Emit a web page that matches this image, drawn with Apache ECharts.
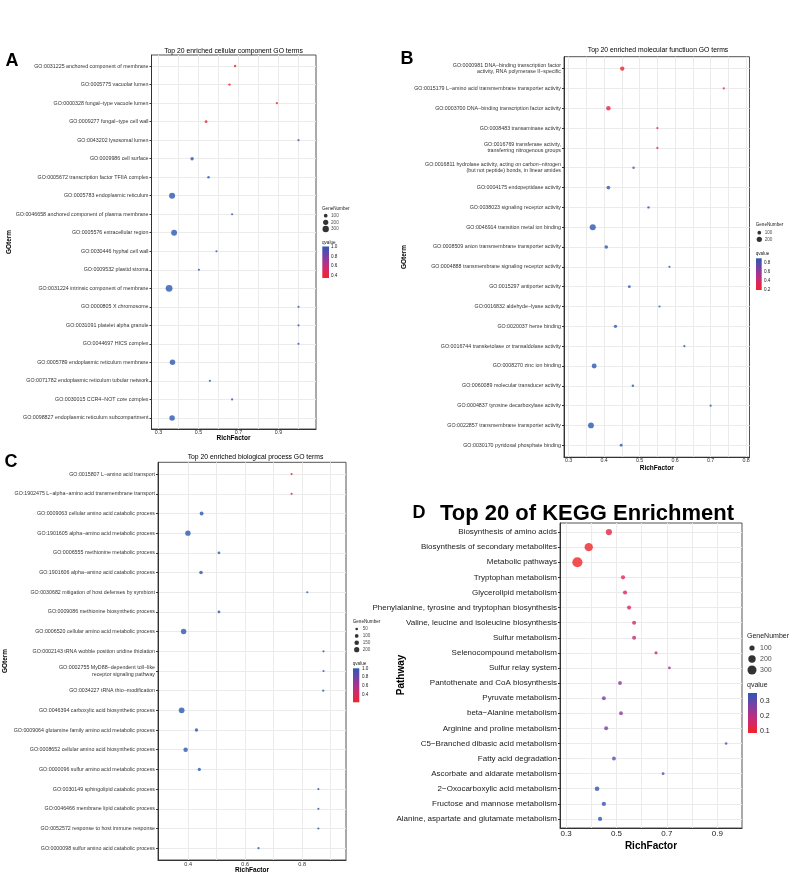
<!DOCTYPE html>
<html>
<head>
<meta charset="UTF-8">
<title>GO / KEGG enrichment bubble charts</title>
<script src="https://cdn.jsdelivr.net/npm/echarts@6/dist/echarts.min.js"></script>
<style>
  html, body { margin: 0; padding: 0; background: #fff; }
  #main { width: 790px; height: 874px; }
</style>
</head>
<body>
<div id="main"></div>
<script>
// ---- A: cellular component ----
var ccTerms = [
  'GO:0031225 anchored component of membrane', 'GO:0005775 vacuolar lumen',
  'GO:0000328 fungal\u2212type vacuole lumen', 'GO:0009277 fungal\u2212type cell wall',
  'GO:0043202 lysosomal lumen', 'GO:0009986 cell surface',
  'GO:0005672 transcription factor TFIIA complex', 'GO:0005783 endoplasmic reticulum',
  'GO:0046658 anchored component of plasma membrane', 'GO:0005576 extracellular region',
  'GO:0030446 hyphal cell wall', 'GO:0009532 plastid stroma',
  'GO:0031224 intrinsic component of membrane', 'GO:0000805 X chromosome',
  'GO:0031091 platelet alpha granule', 'GO:0044697 HICS complex',
  'GO:0005789 endoplasmic reticulum membrane', 'GO:0071782 endoplasmic reticulum tubular network',
  'GO:0030015 CCR4\u2212NOT core complex', 'GO:0098827 endoplasmic reticulum subcompartment'
];
var ccRich  = [0.683, 0.655, 0.892, 0.538, 1.0, 0.468, 0.55, 0.368, 0.668, 0.378,
               0.59, 0.502, 0.353, 1.0, 1.0, 1.0, 0.37, 0.557, 0.668, 0.368];
var ccGenes = [45, 45, 27, 60, 20, 87, 48, 265, 27, 250, 34, 34, 340, 10, 10, 10, 220, 27, 27, 220];
var ccQ     = [0.37, 0.36, 0.37, 0.38, 0.9, 1, 1, 1, 1, 1, 1, 1, 1, 1, 1, 1, 1, 1, 1, 1];
var ccTicks = [0.3, 0.5, 0.7, 0.9];
var ccGridX = [0.3, 0.4, 0.5, 0.6, 0.7, 0.8, 0.9, 1.0];
var ccSizeBreaks = [100, 200, 300];
var ccQTicks = [0.4, 0.6, 0.8, 1.0];

// ---- B: molecular function ----
var mfTerms = [
  'GO:0000981 DNA\u2212binding transcription factor\nactivity, RNA polymerase II\u2212specific',
  'GO:0015179 L\u2212amino acid transmembrane transporter activity',
  'GO:0003700 DNA\u2212binding transcription factor activity',
  'GO:0008483 transaminase activity',
  'GO:0016769 transferase activity,\ntransferring nitrogenous groups',
  'GO:0016811 hydrolase activity, acting on carbon\u2212nitrogen\n(but not peptide) bonds, in linear amides',
  'GO:0004175 endopeptidase activity', 'GO:0038023 signaling receptor activity',
  'GO:0046914 transition metal ion binding', 'GO:0008509 anion transmembrane transporter activity',
  'GO:0004888 transmembrane signaling receptor activity', 'GO:0015297 antiporter activity',
  'GO:0016832 aldehyde\u2212lyase activity', 'GO:0020037 heme binding',
  'GO:0016744 transketolase or transaldolase activity', 'GO:0008270 zinc ion binding',
  'GO:0060089 molecular transducer activity', 'GO:0004837 tyrosine decarboxylase activity',
  'GO:0022857 transmembrane transporter activity', 'GO:0030170 pyridoxal phosphate binding'
];
var mfRich  = [0.451, 0.737, 0.412, 0.55, 0.55, 0.483, 0.412, 0.525, 0.368, 0.406,
               0.584, 0.471, 0.556, 0.432, 0.626, 0.372, 0.481, 0.70, 0.363, 0.448];
var mfGenes = [140, 20, 150, 32, 32, 45, 100, 45, 270, 95, 32, 60, 25, 80, 20, 180, 45, 11, 245, 60];
var mfQ     = [0.2, 0.26, 0.28, 0.3, 0.3, 0.75, 0.887, 0.887, 0.887, 0.887,
               0.887, 0.887, 0.887, 0.887, 0.887, 0.887, 0.887, 0.887, 0.887, 0.887];
var mfTicks = [0.3, 0.4, 0.5, 0.6, 0.7, 0.8];
var mfGridX = [0.3, 0.35, 0.4, 0.45, 0.5, 0.55, 0.6, 0.65, 0.7, 0.75, 0.8];
var mfSizeBreaks = [100, 200];
var mfQTicks = [0.2, 0.4, 0.6, 0.8];

// ---- C: biological process ----
var bpTerms = [
  'GO:0015807 L\u2212amino acid transport', 'GO:1902475 L\u2212alpha\u2212amino acid transmembrane transport',
  'GO:0009063 cellular amino acid catabolic process', 'GO:1901605 alpha\u2212amino acid metabolic process',
  'GO:0006555 methionine metabolic process', 'GO:1901606 alpha\u2212amino acid catabolic process',
  'GO:0030682 mitigation of host defenses by symbiont', 'GO:0009086 methionine biosynthetic process',
  'GO:0006520 cellular amino acid metabolic process', 'GO:0002143 tRNA wobble position uridine thiolation',
  'GO:0002755 MyD88\u2212dependent toll\u2212like\nreceptor signaling pathway', 'GO:0034227 tRNA thio\u2212modification',
  'GO:0046394 carboxylic acid biosynthetic process', 'GO:0009064 glutamine family amino acid metabolic process',
  'GO:0008652 cellular amino acid biosynthetic process', 'GO:0000096 sulfur amino acid metabolic process',
  'GO:0030149 sphingolipid catabolic process', 'GO:0046466 membrane lipid catabolic process',
  'GO:0052572 response to host immune response', 'GO:0000098 sulfur amino acid catabolic process'
];
var bpRich  = [0.763, 0.763, 0.447, 0.399, 0.508, 0.445, 0.818, 0.508, 0.384, 0.875,
               0.875, 0.874, 0.377, 0.429, 0.391, 0.439, 0.857, 0.857, 0.857, 0.647];
var bpGenes = [12, 12, 110, 210, 55, 95, 8, 55, 220, 5, 5, 5, 240, 85, 150, 75, 5, 5, 5, 15];
var bpQ     = [0.214, 0.214, 1, 1, 1, 1, 1, 1, 1, 1, 1, 1, 1, 1, 1, 1, 1, 1, 1, 1];
var bpTicks = [0.4, 0.6, 0.8];
var bpGridX = [0.4, 0.5, 0.6, 0.7, 0.8, 0.9];
var bpSizeBreaks = [50, 100, 150, 200];
var bpQTicks = [0.4, 0.6, 0.8, 1.0];

// ---- D: KEGG ----
var kgTerms = [
  'Biosynthesis of amino acids', 'Biosynthesis of secondary metabolites', 'Metabolic pathways',
  'Tryptophan metabolism', 'Glycerolipid metabolism', 'Phenylalanine, tyrosine and tryptophan biosynthesis',
  'Valine, leucine and isoleucine biosynthesis', 'Sulfur metabolism', 'Selenocompound metabolism',
  'Sulfur relay system', 'Pantothenate and CoA biosynthesis', 'Pyruvate metabolism',
  'beta\u2212Alanine metabolism', 'Arginine and proline metabolism', 'C5\u2212Branched dibasic acid metabolism',
  'Fatty acid degradation', 'Ascorbate and aldarate metabolism', '2\u2212Oxocarboxylic acid metabolism',
  'Fructose and mannose metabolism', 'Alanine, aspartate and glutamate metabolism'
];
var kgRich  = [0.47, 0.39, 0.345, 0.526, 0.534, 0.55, 0.57, 0.57, 0.657, 0.71,
               0.514, 0.45, 0.518, 0.459, 0.935, 0.49, 0.685, 0.423, 0.45, 0.435];
var kgGenes = [144, 256, 380, 64, 64, 64, 60, 60, 36, 30, 55, 60, 55, 60, 25, 55, 30, 80, 70, 65];
var kgQ     = [0.12, 0.09, 0.087, 0.13, 0.14, 0.15, 0.17, 0.18, 0.19, 0.23,
               0.25, 0.27, 0.25, 0.27, 0.3, 0.3, 0.32, 0.34, 0.34, 0.353];
var kgTicks = [0.3, 0.5, 0.7, 0.9];
var kgGridX = [0.3, 0.4, 0.5, 0.6, 0.7, 0.8, 0.9];
var kgSizeBreaks = [100, 200, 300];
var kgQTicks = [0.1, 0.2, 0.3];

var FONT = '"Liberation Sans", Arial, sans-serif';
var qStops = ['#F02526', '#D72864', '#A8338F', '#6B45A8', '#2C58B2'];

var panels = [
  { terms: ccTerms, rich: ccRich, genes: ccGenes, q: ccQ, xTicks: ccTicks, xGrid: ccGridX,
    sizeBreaks: ccSizeBreaks, qTicks: ccQTicks,
    grid: { left: 151.5, top: 55, width: 164.5, height: 374 }, xMin: 0.265, xMax: 1.0875,
    qMin: 0.36, qMax: 1.0, k: 0.37, minSize: 2.2, font: 5.3, tickFont: 5.3, lab: '#333', xMargin: 1, yMargin: 3,
    sizeLeg: { x: 325.7, labelX: 331, y0: 215.7, dy: 6.67, font: 4.6 },
    bar: { x: 322.3, w: 6.7, top: 246.5, bottom: 278, labelX: 331, font: 4.6 } },
  { terms: mfTerms, rich: mfRich, genes: mfGenes, q: mfQ, xTicks: mfTicks, xGrid: mfGridX,
    sizeBreaks: mfSizeBreaks, qTicks: mfQTicks,
    grid: { left: 564, top: 56.7, width: 185.5, height: 400.5 }, xMin: 0.287, xMax: 0.8095,
    qMin: 0.195, qMax: 0.887, k: 0.37, minSize: 2.2, font: 5.3, tickFont: 5.3, lab: '#333', xMargin: 1, yMargin: 3,
    sizeLeg: { x: 759.3, labelX: 764.7, y0: 232.7, dy: 6.6, font: 4.6 },
    bar: { x: 756, w: 5.7, top: 258.3, bottom: 290, labelX: 764, font: 4.6 } },
  { terms: bpTerms, rich: bpRich, genes: bpGenes, q: bpQ, xTicks: bpTicks, xGrid: bpGridX,
    sizeBreaks: bpSizeBreaks, qTicks: bpQTicks,
    grid: { left: 158, top: 462.3, width: 188, height: 397.7 }, xMin: 0.294, xMax: 0.954,
    qMin: 0.214, qMax: 1.0, k: 0.37, minSize: 2.2, font: 5.3, tickFont: 5.5, lab: '#333', xMargin: 1.3, yMargin: 3,
    sizeLeg: { x: 356.7, labelX: 362.7, y0: 629, dy: 6.9, font: 4.6 },
    bar: { x: 353, w: 6.3, top: 668.3, bottom: 702.3, labelX: 362, font: 4.6 } },
  { terms: kgTerms, rich: kgRich, genes: kgGenes, q: kgQ, xTicks: kgTicks, xGrid: kgGridX,
    sizeBreaks: kgSizeBreaks, qTicks: kgQTicks,
    grid: { left: 560, top: 523, width: 182, height: 305 }, xMin: 0.276, xMax: 0.998,
    qMin: 0.087, qMax: 0.353, k: 0.52, minSize: 2.5, font: 8, tickFont: 8, lab: '#1a1a1a', xMargin: 2, yMargin: 3,
    sizeLeg: { x: 752, labelX: 760, y0: 648, dy: 11, font: 7 },
    bar: { x: 748, w: 9, top: 693, bottom: 733, labelX: 760, font: 7 } }
];

var grids = [], xAxes = [], yAxes = [], series = [], visualMaps = [];

function fmt1(v) { return (+v).toFixed(1); }

panels.forEach(function (p) {
  var gi = grids.length;
  var size = function (v) { return Math.max(p.minSize, p.k * Math.sqrt(v[2])); };
  var idx = p.terms.map(function (t, i) { return i; });

  // main plot panel
  grids.push({ left: p.grid.left, top: p.grid.top, width: p.grid.width, height: p.grid.height,
    show: true, borderColor: '#555', borderWidth: 1, backgroundColor: '#fff' });
  xAxes.push({ type: 'value', gridIndex: gi, min: p.xMin, max: p.xMax,
    axisLine: { show: true, onZero: false, lineStyle: { color: '#333', width: 1 } },
    axisTick: { show: false, customValues: p.xGrid },
    axisLabel: { customValues: p.xTicks, formatter: fmt1, fontSize: p.tickFont, color: p.lab,
      fontFamily: FONT, margin: p.xMargin },
    splitLine: { show: true, lineStyle: { color: '#ebebeb', width: 1 } } });
  yAxes.push({ type: 'value', gridIndex: gi, inverse: true, min: -0.6, max: p.terms.length - 0.4,
    axisLine: { show: true, onZero: false, lineStyle: { color: '#333', width: 1 } },
    axisTick: { show: true, length: 2, customValues: idx, lineStyle: { color: '#333' } },
    axisLabel: { customValues: idx, fontSize: p.font, color: p.lab, fontFamily: FONT,
      margin: p.yMargin, lineHeight: p.font * 1.15,
      formatter: function (v) { return p.terms[Math.round(v)]; } },
    splitLine: { show: true, lineStyle: { color: '#ebebeb', width: 1 } } });
  series.push({ type: 'scatter', xAxisIndex: gi, yAxisIndex: gi, symbolSize: size,
    data: p.rich.map(function (r, i) { return [r, i, p.genes[i], p.q[i]]; }) });
  visualMaps.push({ type: 'continuous', show: false, seriesIndex: series.length - 1, dimension: 3,
    min: p.qMin, max: p.qMax, inRange: { color: qStops } });

  // size legend (GeneNumber)
  var sl = p.sizeLeg, n = p.sizeBreaks.length, li = grids.length;
  grids.push({ left: sl.x, top: sl.y0 - sl.dy / 2, width: sl.labelX - sl.x, height: sl.dy * n });
  xAxes.push({ type: 'value', gridIndex: li, min: 0, max: 1, show: false });
  yAxes.push({ type: 'value', gridIndex: li, min: -0.5, max: n - 0.5, inverse: true, show: false });
  series.push({ type: 'scatter', xAxisIndex: li, yAxisIndex: li, symbolSize: size,
    itemStyle: { color: '#000' }, silent: true,
    data: p.sizeBreaks.map(function (b, i) { return [0, i, b]; }) });
  series.push({ type: 'scatter', xAxisIndex: li, yAxisIndex: li, symbolSize: 0.1,
    itemStyle: { color: 'rgba(0,0,0,0)' }, silent: true,
    label: { show: true, position: 'right', distance: 0, fontSize: sl.font, color: '#1a1a1a',
      fontFamily: FONT, formatter: function (d) { return String(d.value[2]); } },
    data: p.sizeBreaks.map(function (b, i) { return [1, i, b]; }) });

  // colour bar (qvalue)
  var cb = p.bar, ci = grids.length;
  grids.push({ left: cb.x, top: cb.top, width: cb.w, height: cb.bottom - cb.top });
  xAxes.push({ type: 'category', gridIndex: ci, data: ['q'], show: false });
  yAxes.push({ type: 'value', gridIndex: ci, position: 'right', min: p.qMin, max: p.qMax,
    axisLine: { show: false },
    axisTick: { show: true, inside: true, length: 1.5, customValues: p.qTicks, lineStyle: { color: '#fff' } },
    axisLabel: { customValues: p.qTicks, formatter: fmt1, fontSize: cb.font, color: '#1a1a1a',
      fontFamily: FONT, margin: cb.labelX - cb.x - cb.w },
    splitLine: { show: false } });
  series.push({ type: 'bar', xAxisIndex: ci, yAxisIndex: ci, stack: 'cb' + ci, barWidth: '100%',
    silent: true, itemStyle: { color: 'rgba(0,0,0,0)' }, data: [p.qMin] });
  series.push({ type: 'bar', xAxisIndex: ci, yAxisIndex: ci, stack: 'cb' + ci, barWidth: '100%',
    silent: true, data: [p.qMax - p.qMin],
    itemStyle: { color: new echarts.graphic.LinearGradient(0, 0, 0, 1,
      qStops.slice().reverse().map(function (c, i) { return { offset: i / (qStops.length - 1), color: c }; })) } });
});

function txt(s, x, y, size, o) {
  o = o || {};
  return { type: 'text', x: x, y: y, rotation: o.rot || 0, silent: true,
    style: { text: s, fontSize: size, fontWeight: o.bold ? 'bold' : 'normal', fontFamily: FONT,
      fill: o.fill || '#000', align: o.align || 'center', verticalAlign: 'middle' } };
}
var R = Math.PI / 2;
var texts = [
  txt('A', 12, 61.5, 18, { bold: true }),
  txt('Top 20 enriched cellular component GO terms', 233.5, 51, 6.8),
  txt('GOterm', 9, 242, 6.5, { bold: true, rot: R }),
  txt('RichFactor', 233.5, 438.5, 6.5, { bold: true }),
  txt('GeneNumber', 322, 209, 4.6, { align: 'left', fill: '#1a1a1a' }),
  txt('qvalue', 322, 242.7, 4.6, { align: 'left', fill: '#1a1a1a' }),

  txt('B', 407, 59.5, 18, { bold: true }),
  txt('Top 20 enriched molecular functiuon GO terms', 658, 50.3, 6.8),
  txt('GOterm', 404, 257, 6.5, { bold: true, rot: R }),
  txt('RichFactor', 656.7, 468, 6.5, { bold: true }),
  txt('GeneNumber', 755.7, 224.3, 4.6, { align: 'left', fill: '#1a1a1a' }),
  txt('qvalue', 755.7, 253.3, 4.6, { align: 'left', fill: '#1a1a1a' }),

  txt('C', 11, 462, 18, { bold: true }),
  txt('Top 20 enriched biological process GO terms', 255.5, 456.7, 6.8),
  txt('GOterm', 5, 661, 6.5, { bold: true, rot: R }),
  txt('RichFactor', 252, 870, 6.5, { bold: true }),
  txt('GeneNumber', 352.7, 621.7, 4.6, { align: 'left', fill: '#1a1a1a' }),
  txt('qvalue', 352.7, 664, 4.6, { align: 'left', fill: '#1a1a1a' }),

  txt('D', 419, 513, 18, { bold: true }),
  txt('Top 20 of KEGG Enrichment', 587, 514, 22, { bold: true }),
  txt('Pathway', 401, 675, 10, { bold: true, rot: R }),
  txt('RichFactor', 651, 846, 10, { bold: true }),
  txt('GeneNumber', 747, 636, 7, { align: 'left', fill: '#1a1a1a' }),
  txt('qvalue', 747, 685, 7, { align: 'left', fill: '#1a1a1a' })
];

var chart = echarts.init(document.getElementById('main'));
chart.setOption({
  animation: false,
  backgroundColor: '#fff',
  textStyle: { fontFamily: FONT },
  grid: grids,
  xAxis: xAxes,
  yAxis: yAxes,
  visualMap: visualMaps,
  series: series,
  graphic: texts
});
</script>
</body>
</html>
